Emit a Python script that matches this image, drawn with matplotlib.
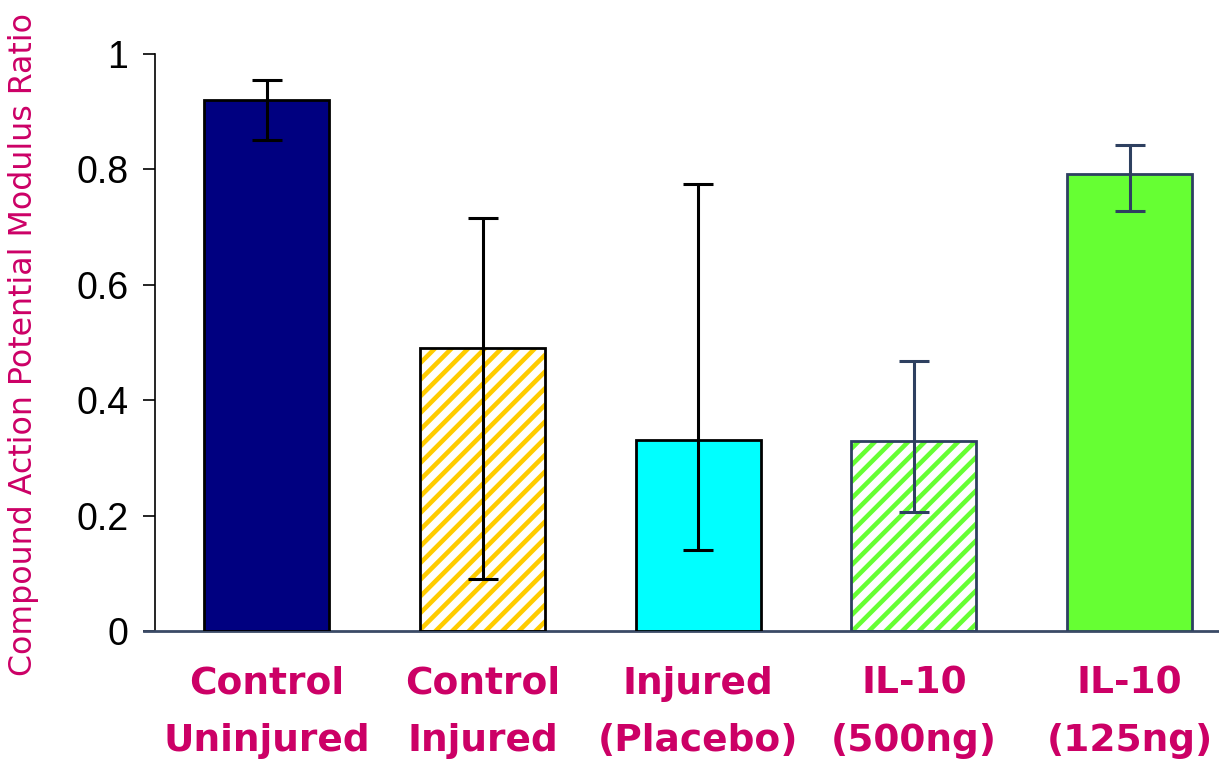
import numpy as np
import matplotlib
matplotlib.use("Agg")
import matplotlib.pyplot as plt

# values
groups = ["Control\nUninjured", "Control\nInjured", "Injured\n(Placebo)",
          "IL-10\n(500ng)", "IL-10\n(125ng)"]
means = [0.920, 0.490, 0.331, 0.330, 0.792]
err_low = [0.851, 0.090, 0.140, 0.206, 0.728]   # lower end of error bar
err_high = [0.955, 0.716, 0.775, 0.468, 0.842]  # upper end of error bar
yticks = [0, 0.2, 0.4, 0.6, 0.8, 1]
ytick_labels = ["0", "0.2", "0.4", "0.6", "0.8", "1"]

face = ["#000080", "white", "#00FFFF", "white", "#66FF33"]
hatch_col = [None, "#FFCC00", None, "#66FF33", None]
edge = ["black", "black", "black", "#2E4060", "#2E4060"]
err_col = ["black", "black", "black", "#2E4060", "#2E4060"]
label_col = "#CC0066"

plt.rcParams["hatch.linewidth"] = 3.3

fig = plt.figure(figsize=(12.19, 7.6), dpi=100)
ax = fig.add_axes([0.127, 0.1697, 0.873, 0.7592])

x = np.arange(len(groups))
w = 0.58
means_a = np.array(means)
lo = means_a - np.array(err_low)
hi = np.array(err_high) - means_a

for i in range(len(groups)):
    if hatch_col[i]:
        # hatch in its own colour, then the outline on top
        ax.bar(x[i], means[i], w, color="white", edgecolor=hatch_col[i],
               hatch="//", linewidth=0, zorder=2)
        ax.bar(x[i], means[i], w, fill=False, edgecolor=edge[i],
               linewidth=2, zorder=3)
    else:
        ax.bar(x[i], means[i], w, color=face[i], edgecolor=edge[i],
               linewidth=2, zorder=3)
    ax.errorbar(x[i], means[i], yerr=[[lo[i]], [hi[i]]], fmt="none",
                ecolor=err_col[i], elinewidth=2.2, capsize=11, capthick=2.2,
                zorder=4)

ax.set_xlim(-0.52, 4.415)
ax.set_ylim(0, 1)

ax.spines["top"].set_visible(False)
ax.spines["right"].set_visible(False)
ax.spines["left"].set_color("black")
ax.spines["left"].set_linewidth(1.2)
ax.spines["bottom"].set_color("#3A4A66")
ax.spines["bottom"].set_linewidth(2)
ax.spines["bottom"].set_bounds(-0.57, 4.415)

ax.set_yticks(yticks)
ax.set_yticklabels(ytick_labels, fontsize=27, family="Liberation Sans")
ax.tick_params(axis="y", direction="out", length=9, width=1.2, pad=10)

ax.set_xticks(x)
ax.set_xticklabels(groups, fontsize=27, fontweight="bold", color=label_col,
                   family="DejaVu Sans", linespacing=1.75)
ax.tick_params(axis="x", length=0, pad=25)

fig.text(24 / 1219, 0.547, "Compound Action Potential Modulus Ratio",
         rotation=90, ha="center", va="center", fontsize=22.8,
         color=label_col, family="DejaVu Sans")

fig.savefig("out.png", dpi=100)
